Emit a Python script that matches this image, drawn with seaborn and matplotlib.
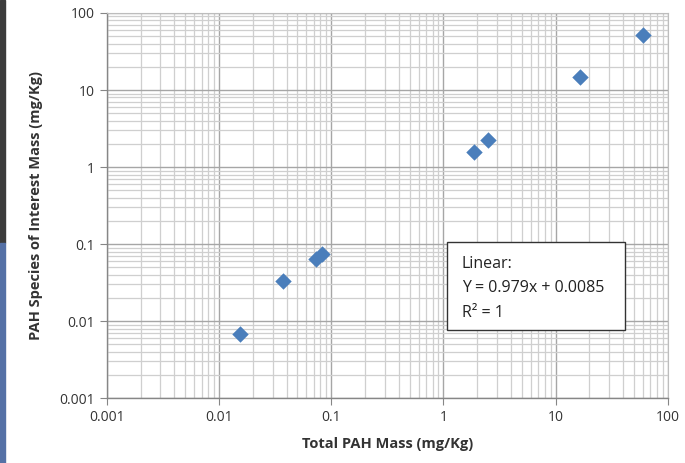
import numpy as np
import pandas as pd
import seaborn as sns
import matplotlib.pyplot as plt
from matplotlib.patches import Rectangle
from matplotlib.ticker import LogLocator, FixedLocator, FixedFormatter

# values
total_pah = [0.0153, 0.037, 0.073, 0.083, 1.87, 2.49, 16.4, 59.8]
species_mass = [0.0068, 0.033, 0.064, 0.074, 1.57, 2.24, 14.8, 51.8]
tick_vals = [0.001, 0.01, 0.1, 1, 10, 100]
tick_labels = ['0.001', '0.01', '0.1', '1', '10', '100']

df = pd.DataFrame({'total': total_pah, 'species': species_mass})

sns.set_style('white')
plt.rcParams['font.family'] = ['Open Sans', 'DejaVu Sans']

fig = plt.figure(figsize=(6.85, 4.63), dpi=100)
ax = fig.add_axes([0.156, 0.140, 0.819, 0.832])

# slide background strip on the left edge
fig.patches.append(Rectangle((0, 0.475), 0.008, 0.525, transform=fig.transFigure,
                             color='#3c3c3c', zorder=0))
fig.patches.append(Rectangle((0, 0), 0.008, 0.475, transform=fig.transFigure,
                             color='#5571a6', zorder=0))

sns.scatterplot(data=df, x='total', y='species', marker='D', s=70,
                color='#4a7ebb', edgecolor='#4a7ebb', linewidth=0, ax=ax, zorder=3)

ax.set_xscale('log')
ax.set_yscale('log')
ax.set_xlim(0.001, 100)
ax.set_ylim(0.001, 100)

for axis in (ax.xaxis, ax.yaxis):
    axis.set_major_locator(FixedLocator(tick_vals))
    axis.set_major_formatter(FixedFormatter(tick_labels))
    axis.set_minor_locator(LogLocator(base=10, subs=np.arange(2, 10), numticks=20))

ax.grid(which='major', color='#a6a6a6', linewidth=1.0)
ax.grid(which='minor', color='#cfcfcf', linewidth=0.9)
ax.set_axisbelow(True)

for side in ('top', 'right'):
    ax.spines[side].set_color('#bdbdbd')
    ax.spines[side].set_linewidth(0.8)
for side in ('left', 'bottom'):
    ax.spines[side].set_color('#868686')
    ax.spines[side].set_linewidth(1.0)

ax.tick_params(which='major', direction='out', length=5, color='#868686',
               labelsize=10, labelcolor='#333333', left=True, bottom=True)
ax.tick_params(which='minor', length=0)

ax.set_xlabel('Total PAH Mass (mg/Kg)', fontsize=10.5, fontweight='bold',
              color='#333333', labelpad=9)
ax.set_ylabel('PAH Species of Interest Mass (mg/Kg)', fontsize=10.5, fontweight='bold',
              color='#333333', labelpad=12)

# equation box
ax.add_patch(Rectangle((0.606, 0.177), 0.317, 0.228, transform=ax.transAxes,
                       facecolor='white', edgecolor='#333333', linewidth=1.0, zorder=4))
ax.text(0.633, 0.285, 'Linear:\nY = 0.979x + 0.0085\nR\u00b2 = 1', transform=ax.transAxes,
        fontsize=11.5, color='#222222', va='center', ha='left', linespacing=1.7,
        zorder=5)

fig.savefig('out.png', dpi=100)
